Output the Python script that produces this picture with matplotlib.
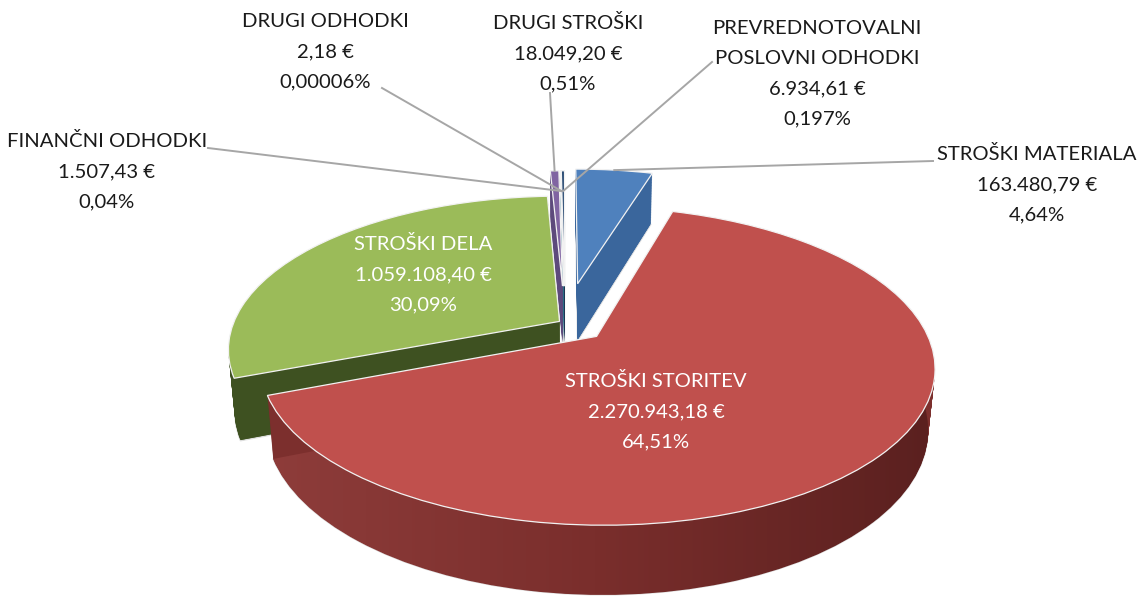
import numpy as np
import matplotlib.pyplot as plt
import matplotlib.transforms as mtransforms
from matplotlib.colors import LinearSegmentedColormap

# data (order as in the source table)
CATEGORIES = ['STROŠKI MATERIALA', 'STROŠKI STORITEV', 'STROŠKI DELA', 'DRUGI STROŠKI',
              'FINANČNI ODHODKI', 'DRUGI ODHODKI', 'PREVREDNOTOVALNI\nPOSLOVNI ODHODKI']
AMOUNTS = [163480.79, 2270943.18, 1059108.40, 18049.20, 1507.43, 2.18, 6934.61]
PERCENT_LABELS = ['4,64%', '64,51%', '30,09%', '0,51%', '0,04%', '0,00006%', '0,197%']

TOP_COLORS = ['#4f81bd', '#c0504d', '#9bbb59', '#8064a2', '#4bacc6', '#f79646', '#2c4d75']
SIDE_COLORS = ['#3a669c', '#7c2f2d', '#3e5121', '#5d4a7c', '#347f94', '#b86e30', '#1d3554']
EXPLODE = [0.28, 0.13, 0.02, 0.26, 0.26, 0.26, 0.26]
DRAW_RANK = [1, 3, 2, 1, 1, 1, 1]

# fake 3d view
TILT = np.arcsin(0.44)
CAM_DIST = 4.9
WALL = 0.2
N_LAYERS = 70

# pixel frame of the picture
CX, CY = 565, 323
SCALE_X, SCALE_Y = 326, 338
W, H = 1143, 596

# label layout in pixels: centre x, baseline of first line, text colour
LABEL_POS = {0: (1037, 160, '#1a1a1a'), 1: (656, 387, 'white'), 2: (423, 250, 'white'),
             3: (568, 29, '#1a1a1a'), 4: (107, 147, '#1a1a1a'), 5: (325, 27, '#1a1a1a'),
             6: (817, 34, '#1a1a1a')}
LEADER_START = {0: (933, 161), 3: (550, 93), 4: (208, 148), 5: (382, 88), 6: (712, 62)}
LEADER_DEPTH = {0: 1.0, 3: 1.0, 4: 0.8, 5: 0.8, 6: 0.8}
LINE_STEP = 30


class TiltTransform(mtransforms.Transform):
    input_dims = 2
    output_dims = 2
    is_separable = False

    def __init__(self, z):
        super().__init__()
        self.z = z

    def transform_non_affine(self, values):
        values = np.asarray(values, dtype=float)
        u, v = values[:, 0], values[:, 1]
        depth = CAM_DIST + v * np.cos(TILT) - self.z * np.sin(TILT)
        k = CAM_DIST / depth
        return np.column_stack([u * k, (v * np.sin(TILT) + self.z * np.cos(TILT)) * k])


def px(x, y):
    return (x - CX) / SCALE_X, (CY - y) / SCALE_Y


def euro(v):
    s = f"{v:,.2f}".replace(',', ' ').replace('.', ',').replace(' ', '.')
    return s + ' €'


plt.rcParams['font.family'] = ['Lato', 'DejaVu Sans']

fig = plt.figure(figsize=(W / 100, H / 100), dpi=100)
ax = fig.add_axes([0, 0, 1, 1])

heights = np.linspace(-WALL, 0, N_LAYERS + 1)
top_wedges = None
bottom_wedges = None
for i, z in enumerate(heights):
    top = i == N_LAYERS
    if top:
        props = dict(linewidth=0.9, edgecolor='#f2f2f2')
    elif i == 0:
        props = dict(linewidth=0.9, edgecolor='#e0e0e0')
    else:
        props = dict(linewidth=0)
    wedges, _ = ax.pie(AMOUNTS, explode=EXPLODE,
                       colors=TOP_COLORS if top else SIDE_COLORS,
                       startangle=90, counterclock=False, radius=1,
                       labeldistance=None, wedgeprops=props)
    tilt = TiltTransform(z)
    for k, w in enumerate(wedges):
        w.set_transform(tilt + ax.transData)
        w.set_zorder(DRAW_RANK[k] + 0.9 * i / (N_LAYERS + 1))
    if top:
        top_wedges = wedges
    if i == 0:
        bottom_wedges = wedges

# shading of the big slice's outer wall, lighter on the left
x0, y0 = px(0, H)
x1, y1 = px(W, 0)
wall_cmap = LinearSegmentedColormap.from_list('wall', ['#8f3d3b', '#7a2e2c', '#5a201f'])
shade = ax.imshow(np.linspace(0, 1, 256)[None, :], cmap=wall_cmap, aspect='auto',
                  extent=(px(250, 0)[0], px(940, 0)[0], y0, y1),
                  zorder=DRAW_RANK[1] + 0.9 * (N_LAYERS - 0.5) / (N_LAYERS + 1))
shade.set_clip_path(bottom_wedges[1])

# labels
flat = TiltTransform(0)
for k, name in enumerate(CATEGORIES):
    x, yb, col = LABEL_POS[k]
    lines = name.split('\n') + [euro(AMOUNTS[k]), PERCENT_LABELS[k]]
    for j, line in enumerate(lines):
        tx, ty = px(x, yb + j * LINE_STEP)
        ax.text(tx, ty, line, ha='center', va='baseline', fontsize=14.6,
                color=col, zorder=10)

    if k in LEADER_START:
        w = top_wedges[k]
        mid = np.deg2rad((w.theta1 + w.theta2) / 2)
        r = w.r * LEADER_DEPTH[k]
        end = flat.transform(np.array([[w.center[0] + r * np.cos(mid),
                                        w.center[1] + r * np.sin(mid)]]))[0]
        sx, sy = px(*LEADER_START[k])
        ax.plot([sx, end[0]], [sy, end[1]], color='#a6a6a6', lw=1.4, zorder=9)

ax.set_xlim(x0, x1)
ax.set_ylim(y0, y1)
ax.set_aspect('auto')
ax.axis('off')

fig.savefig('out.png', dpi=100)
